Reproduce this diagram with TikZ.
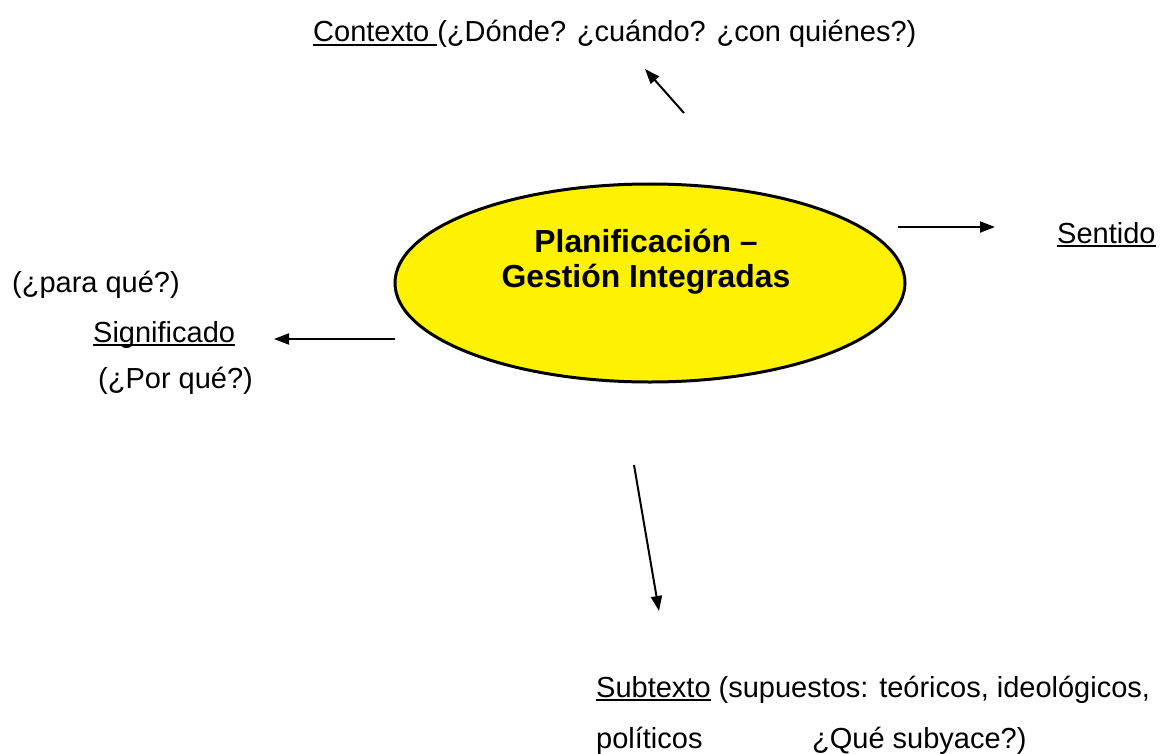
\documentclass[tikz,border=0pt]{standalone}
\usepackage{fontspec}
\setmainfont{Liberation Sans}
\usetikzlibrary{arrows.meta,shapes.geometric}

% subrayado tipo procesador de textos
\newcommand{\subrayar}[1]{\setbox0\hbox{#1}\rlap{\rule[-4bp]{\wd0}{1.8bp}}\box0\relax}

\begin{document}
\begin{tikzpicture}[x=1bp,y=-1bp,
		texto/.style={font=\fontsize{29.1}{33}\selectfont, inner sep=0pt, anchor=base west},
		flecha/.style={line width=2bp, -{Triangle[length=15bp,width=11bp]}}]
	\useasboundingbox (0,0) rectangle (1160,754);
	% centro
	\node [ellipse, draw, line width=3bp, fill=yellow, minimum width=510bp, minimum height=198bp] (plan) at (650,283) {};
	\node [font=\bfseries\fontsize{32}{35}\selectfont, align=center, inner sep=0pt, anchor=base] (titulo) at (646,287) {Planificación –\\Gestión Integradas};
	% textos
	\node [texto] (contexto) at (313,42) {\subrayar{Contexto\ }(¿Dónde? ¿cuándo? ¿con quiénes?)};
	\node [texto] (sentido) at (1057,243) {\subrayar{Sentido}};
	\node [texto] (paraque) at (12,292) {(¿para qué?)};
	\node [texto] (significado) at (93,342) {\subrayar{Significado}};
	\node [texto] (porque) at (98,388) {(¿Por qué?)};
	\node [texto] (subtexto) at (596,697) {\subrayar{Subtexto} (supuestos: teóricos, ideológicos,};
	\node [texto] (politicos) at (596,748) {políticos};
	\node [texto] (subyace) at (812,748) {¿Qué subyace?)};
	% extremos de las flechas
	\coordinate (c1) at (684,113);
	\coordinate (c2) at (645,69);
	\coordinate (s1) at (898,227);
	\coordinate (s2) at (995,227);
	\coordinate (g1) at (395,339);
	\coordinate (g2) at (274,339);
	\coordinate (t1) at (634,465);
	\coordinate (t2) at (659,611);
	\draw [flecha] (c1) -- (c2);
	\draw [flecha] (s1) -- (s2);
	\draw [flecha] (g1) -- (g2);
	\draw [flecha] (t1) -- (t2);
\end{tikzpicture}
\end{document}
